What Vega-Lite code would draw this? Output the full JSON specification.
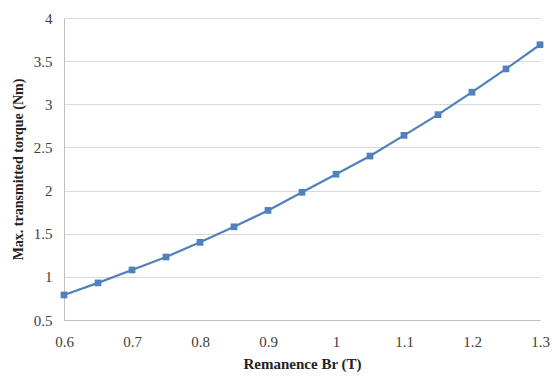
{
  "$schema": "https://vega.github.io/schema/vega-lite/v6.json",
  "width": 476,
  "height": 302,
  "autosize": {"type": "none"},
  "padding": {"left": 64, "top": 18, "right": 12, "bottom": 56},
  "background": "white",
  "config": {
    "view": {"stroke": null},
    "font": "Liberation Serif"
  },
  "data": {
    "values": [
      {"br": 0.6, "torque": 0.79},
      {"br": 0.65, "torque": 0.93},
      {"br": 0.7, "torque": 1.08},
      {"br": 0.75, "torque": 1.23},
      {"br": 0.8, "torque": 1.40},
      {"br": 0.85, "torque": 1.58},
      {"br": 0.9, "torque": 1.77},
      {"br": 0.95, "torque": 1.98},
      {"br": 1.0, "torque": 2.19},
      {"br": 1.05, "torque": 2.40},
      {"br": 1.1, "torque": 2.64},
      {"br": 1.15, "torque": 2.88},
      {"br": 1.2, "torque": 3.14},
      {"br": 1.25, "torque": 3.41},
      {"br": 1.3, "torque": 3.69}
    ]
  },
  "encoding": {
    "x": {
      "field": "br",
      "type": "quantitative",
      "scale": {"domain": [0.6, 1.3], "nice": false, "zero": false},
      "axis": {
        "title": "Remanence Br (T)",
        "values": [0.6, 0.7, 0.8, 0.9, 1.0, 1.1, 1.2, 1.3],
        "format": "~g",
        "grid": false,
        "ticks": false,
        "domainColor": "#bfbfbf",
        "labelFont": "Liberation Serif",
        "labelFontSize": 15,
        "labelColor": "#404040",
        "labelPadding": 14,
        "labelFlush": false,
        "titleFont": "Liberation Serif",
        "titleFontSize": 15,
        "titleFontWeight": "bold",
        "titleColor": "#222222",
        "titlePadding": 7
      }
    },
    "y": {
      "field": "torque",
      "type": "quantitative",
      "scale": {"domain": [0.5, 4], "nice": false, "zero": false},
      "axis": {
        "title": "Max. transmitted torque (Nm)",
        "values": [0.5, 1, 1.5, 2, 2.5, 3, 3.5, 4],
        "format": "~g",
        "grid": true,
        "gridColor": "#d9d9d9",
        "ticks": false,
        "domainColor": "#bfbfbf",
        "labelFont": "Liberation Serif",
        "labelFontSize": 15,
        "labelColor": "#404040",
        "labelPadding": 12,
        "titleFont": "Liberation Serif",
        "titleFontSize": 14,
        "titleFontWeight": "bold",
        "titleColor": "#222222",
        "titlePadding": 8
      }
    }
  },
  "layer": [
    {"mark": {"type": "line", "color": "#4f81bd", "strokeWidth": 2.2}},
    {"mark": {"type": "point", "shape": "square", "filled": true, "color": "#4f81bd", "opacity": 1, "size": 45}}
  ]
}
